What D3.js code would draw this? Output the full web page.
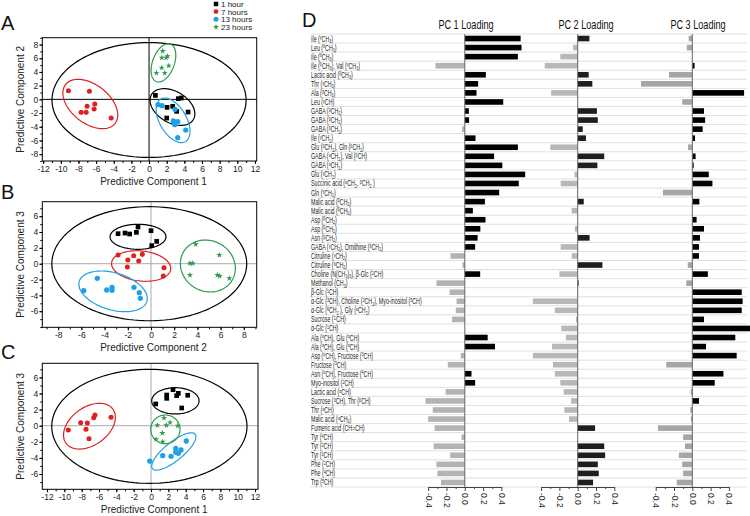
<!DOCTYPE html>
<html><head><meta charset="utf-8">
<script src="https://cdn.jsdelivr.net/npm/d3@7"></script>
<style>
html,body{margin:0;padding:0;background:#fff;}
svg{display:block;font-family:"Liberation Sans",Arial,sans-serif;}
</style></head>
<body><svg id="c" width="750" height="516"></svg>
<script>
// ---------------- DATA ----------------
const groups = ["1 hour", "7 hours", "13 hours", "23 hours"];
const groupColors = ["#000000", "#e02020", "#1ea0e6", "#2e9a4a"];

// Panel A: Predictive Component 1 (x) vs 2 (y)
const A_1h  = [[0.72,0.58],[3.32,0.1],[3.66,0.2],[2.04,-1.17],[2.68,-1.02],[3.13,-1.75],[4.42,-1.85],[2.0,-2.73]];
const A_7h  = [[-9.14,1.27],[-6.76,1.17],[-6.15,-0.68],[-7.02,-1.02],[-7.7,-1.9],[-7.13,-1.9],[-6.23,-1.41],[-4.3,-2.73]];
const A_13h = [[1.02,-0.78],[1.47,-0.92],[2.94,-1.46],[2.75,-3.16],[2.91,-3.7],[3.25,-3.26],[4.16,-4.48],[3.25,-5.6]];
const A_23h = [[1.55,7.05],[1.44,6.08],[1.93,6.08],[2.23,4.91],[0.83,3.85],[1.44,4.62],[1.78,3.85],[2.1,6.3]];
// ellipses: [cx, cy, half-width, half-height, y-offset of rightmost point]
const A_ell = [[2.65,-1.12,2.54,2.68,-1.0],[-6.66,-0.68,3.11,3.6,-1.6],[2.72,-3.06,1.92,3.25,-1.6],[1.63,5.33,1.4,2.8,1.1]];
const A_T2  = [0.0,-0.1,11.0,8.38,0];

// Panel B: Predictive Component 2 (x) vs 3 (y)
const B_1h  = [[-2.84,3.79],[-2.24,3.87],[-1.84,3.75],[-1.26,3.96],[-1.12,4.63],[0.0,4.17],[0.49,2.82],[0.06,2.28]];
const B_7h  = [[-2.84,1.1],[-2.0,0.47],[-2.04,-0.42],[-1.49,1.01],[-1.06,0.34],[-0.75,1.18],[1.12,-0.5],[1.06,-1.55]];
const B_13h = [[-5.8,-3.41],[-4.63,-1.84],[-3.82,-3.32],[-3.36,-2.98],[-3.36,-3.36],[-1.47,-2.98],[-1.01,-3.66],[-0.92,-4.37]];
const B_23h = [[3.85,2.45],[3.36,0.05],[3.59,0.05],[5.89,1.1],[3.36,-1.43],[5.72,-1.43],[5.92,-1.55],[6.75,-1.84]];
const B_ell = [[-1.12,3.4,2.41,1.58,0],[-0.85,-0.29,2.55,1.93,-0.3],[-3.27,-3.49,2.95,2.57,-0.9],[4.9,-0.29,2.37,3.28,-0.3]];
const B_T2  = [-0.15,0,8.4,7.2,0];

// Panel C: Predictive Component 1 (x) vs 3 (y)
const C_1h  = [[0.54,2.7],[1.81,3.81],[1.81,3.4],[2.54,4.47],[2.96,3.73],[3.15,4.02],[4.23,3.78],[3.54,2.2]];
const C_7h  = [[-9.54,-0.53],[-8.11,0.37],[-7.34,0.33],[-7.5,-0.45],[-6.61,0.99],[-6.46,1.33],[-4.61,1.04],[-7.15,-1.61]];
const C_13h = [[-0.15,-4.39],[1.35,-3.72],[2.31,-3.8],[2.85,-2.81],[2.85,-3.3],[3.15,-3.43],[3.46,-3.02],[4.07,-1.9]];
const C_23h = [[1.5,0.96],[0.73,0.05],[1.77,0.05],[3.08,0.0],[1.3,-0.91],[0.58,-1.69],[1.35,-1.99],[2.2,0.4]];
const C_ell = [[2.81,3.09,2.73,1.63,0],[-7.1,-0.06,2.99,2.84,1.1],[2.63,-3.2,2.55,2.32,1.83],[1.66,-0.45,1.69,1.78,0]];
const C_T2  = [-0.19,-0.08,11.26,7.08,0];

// Panel D: loadings
const metabolites = [
 "Ile (^γ^CH_3_)","Leu (^δ^CH_3_)","Ile (^δ^CH_3_)","Ile (^β^CH_3_), Val (^γ^CH_3_)","Lactic acid (^β^CH_3_)",
 "Thr (^γ^CH_3_)","Ala (^β^CH_3_)","Leu (^γ^CH)","GABA (^β^CH_2_)","GABA (^β^CH_2_)",
 "GABA (^β^CH_2_)","Ile (^γ^CH_2_)","Glu (^β^CH_2_), Gln (^β^CH_2_)","GABA (^α^CH_2_), Val (^β^CH)","GABA (^α^CH_2_)",
 "Glu (^γ^CH_2_)","Succinic acid (^α^CH_2_, ^β^CH_2_ )","Gln (^γ^CH_2_)","Malic acid (^β^CH_2_)","Malic acid (^β^CH_2_)",
 "Asp (^β^CH_2_)","Asp (^β^CH_2_)","Asn (^β^CH_2_)","GABA (^γ^CH_2_), Ornithine (^δ^CH_2_)","Citruline (^γ^CH_2_)",
 "Citruline (^δ^CH_2_)","Choline (N(CH_3_)_3_), β-Glc (^2^CH)","Methanol (CH_3_)","β-Glc (^1^CH)","α-Glc (^3^CH), Choline (^2^CH_2_), Myo-inositol (^5^CH)",
 "α-Glc (^6^CH_2_ ), Gly (^α^CH_2_)","Sucrose (^1'^CH)","α-Glc (^1^CH)","Ala (^α^CH), Glu (^α^CH)","Ala (^α^CH), Glu (^α^CH)",
 "Asp (^α^CH), Fructose (^3^CH)","Fructose (^3^CH)","Asn (^α^CH), Fructose (^4^CH)","Myo-inositol (^2^CH)","Lactic acid (^α^CH)",
 "Sucrose (^3^CH), Thr (^β^CH)","Thr (^α^CH)","Malic acid (^α^CH_2_)","Fumeric acid (CH=CH)","Tyr (^4^CH)",
 "Tyr (^2^CH)","Tyr (^3^CH)","Phe (^2^CH)","Phe (^4^CH)","Trp (^5^CH)"
];
const pc1 = [0.61,0.62,0.58,-0.32,0.23, 0.146,0.128,0.42,0.044,0.047, -0.03,0.117,0.58,0.32,0.41,
 0.66,0.59,0.376,0.22,0.088, 0.226,0.17,0.14,0.113,-0.157, -0.026,0.168,-0.31,-0.167,-0.09,
 -0.098,-0.139,0,0.25,0.33, -0.044,-0.186,0.073,0.113,-0.21, -0.43,-0.35,-0.40,-0.33,-0.036,
 -0.34,-0.16,-0.31,-0.30,-0.26];
const pc2 = [0.128,-0.05,-0.19,-0.36,0.12, 0.16,-0.29,0,0.21,0.22, 0.055,0.09,-0.30,0.29,0.215,
 -0.036,-0.186,0,0.066,-0.066, 0,-0.03,0.13,-0.186,-0.066, 0.27,-0.2,0.01,-0.005,-0.49,
 -0.25,-0.02,-0.18,-0.13,-0.28, -0.49,-0.27,-0.25,-0.19,-0.153, -0.073,-0.146,-0.095,0.19,0,
 0.29,0.30,0.22,0.23,0.168];
const pc3 = [-0.04,-0.06,0,0.025,-0.255, -0.56,0.566,-0.11,0.128,0.14, 0.113,0.03,-0.047,0.036,0.015,
 0.18,0.22,-0.32,0.077,0, 0.047,0.128,0.084,0.073,0.073, -0.05,0.17,-0.066,0.54,0.55,
 0.54,0.128,0.66,0.47,0.15, 0.485,-0.285,0.34,0.245,-0.018, 0.073,-0.022,-0.015,-0.376,-0.10,
 -0.08,-0.146,-0.11,-0.10,-0.17];
const pcTitles = ["PC 1 Loading","PC 2 Loading","PC 3 Loading"];
const loadingTicks = [-0.4,-0.2,0.0,0.2,0.4];

// ---------------- DRAW ----------------
const svg = d3.select("#c");

function scatterPanel(cfg) {
  const g = svg.append("g");
  const x = d3.scaleLinear().domain(cfg.xd).range([cfg.l, cfg.r]);
  const y = d3.scaleLinear().domain(cfg.yd).range([cfg.b, cfg.t]);
  g.append("line").attr("x1", x(0)).attr("x2", x(0)).attr("y1", cfg.t).attr("y2", cfg.b)
    .attr("stroke", cfg.crossColor).attr("stroke-width", 1);
  g.append("line").attr("y1", y(0)).attr("y2", y(0)).attr("x1", cfg.l).attr("x2", cfg.r)
    .attr("stroke", cfg.crossColor).attr("stroke-width", 1);
  const line = d3.line().x(d => x(d[0])).y(d => y(d[1])).curve(d3.curveLinearClosed);
  function ell(e) {
    const [cx, cy, W, H, k] = e;
    const v = Math.sqrt(Math.max(H * H - k * k, 0.0001));
    return d3.range(0, 2 * Math.PI, Math.PI / 60).map(t => [cx + W * Math.cos(t), cy + k * Math.cos(t) + v * Math.sin(t)]);
  }
  g.append("path").attr("d", line(ell(cfg.T2))).attr("fill", "none").attr("stroke", "#000").attr("stroke-width", 1.2);
  cfg.ell.forEach((e, i) => {
    g.append("path").attr("d", line(ell(e))).attr("fill", "none").attr("stroke", groupColors[i]).attr("stroke-width", 1.2);
  });
  const sym = [d3.symbolSquare, d3.symbolCircle, d3.symbolCircle, d3.symbolStar];
  const sizes = [22, 20, 22, 12];
  cfg.pts.forEach((pts, i) => {
    g.selectAll(null).data(pts).enter().append("path")
      .attr("d", d3.symbol().type(sym[i]).size(sizes[i]))
      .attr("transform", d => `translate(${x(d[0])},${y(d[1])})`)
      .attr("fill", groupColors[i]);
  });
  g.append("rect").attr("x", cfg.l).attr("y", cfg.t).attr("width", cfg.r - cfg.l).attr("height", cfg.b - cfg.t)
    .attr("fill", "none").attr("stroke", "#000").attr("stroke-width", 1);
  const xa = g.append("g").attr("transform", `translate(0,${cfg.b})`)
    .call(d3.axisBottom(x).tickValues(cfg.xt).tickSize(3).tickSizeOuter(0).tickFormat(d3.format("d")));
  const xm = g.append("g").attr("transform", `translate(0,${cfg.b})`)
    .call(d3.axisBottom(x).tickValues(d3.range(Math.ceil(cfg.xd[0]), Math.floor(cfg.xd[1]) + 1)).tickSize(2).tickSizeOuter(0).tickFormat(""));
  const ya = g.append("g").attr("transform", `translate(${cfg.l},0)`)
    .call(d3.axisLeft(y).tickValues(cfg.yt).tickSize(3).tickSizeOuter(0).tickFormat(d3.format("d")));
  const ym = g.append("g").attr("transform", `translate(${cfg.l},0)`)
    .call(d3.axisLeft(y).tickValues(d3.range(Math.ceil(cfg.yd[0]), Math.floor(cfg.yd[1]) + 1)).tickSize(2).tickSizeOuter(0).tickFormat(""));
  [xa, xm, ya, ym].forEach(a => { a.select(".domain").remove(); a.selectAll("line").attr("stroke", "#000"); });
  [xa, ya].forEach(a => a.selectAll("text").attr("font-size", 8.5).attr("fill", "#222")
    .attr("font-family", '"Liberation Sans",Arial,sans-serif').text(d => d < 0 ? "-" + Math.abs(d) : d));
  xa.selectAll("text").attr("dy", "0.9em").attr("y", 3);
  ya.selectAll("text").attr("x", -4);
  g.append("text").attr("x", (cfg.l + cfg.r) / 2 + 4).attr("y", cfg.b + 24).attr("text-anchor", "middle")
    .attr("font-size", 10).attr("fill", "#222").text(cfg.xlab);
  g.append("text").attr("transform", `translate(${cfg.l - 18},${(cfg.t + cfg.b) / 2}) rotate(-90)`)
    .attr("text-anchor", "middle").attr("font-size", 10).attr("fill", "#222").text(cfg.ylab);
  g.append("text").attr("x", 1).attr("y", cfg.letterY).attr("font-size", 20).attr("fill", "#111").text(cfg.letter);
}

scatterPanel({l: 42.3, r: 256.7, t: 37.7, b: 161, xd: [-12.1, 12.2], yd: [-9, 9],
  xt: d3.range(-12, 13, 2), yt: d3.range(-8, 9, 2), pts: [A_1h, A_7h, A_13h, A_23h], ell: A_ell, T2: A_T2,
  crossColor: "#000", xlab: "Predictive Component 1", ylab: "Predictive Component 2", letter: "A", letterY: 30});
scatterPanel({l: 42.3, r: 256.7, t: 201.7, b: 327.3, xd: [-9.37, 9.11], yd: [-8.03, 7.83],
  xt: d3.range(-8, 9, 2), yt: d3.range(-6, 7, 2), pts: [B_1h, B_7h, B_13h, B_23h], ell: B_ell, T2: B_T2,
  crossColor: "#aaa", xlab: "Predictive Component 2", ylab: "Predictive Component 3", letter: "B", letterY: 199});
scatterPanel({l: 42.3, r: 258, t: 363.3, b: 489.3, xd: [-12.54, 12.34], yd: [-7.9, 7.75],
  xt: d3.range(-12, 13, 2), yt: d3.range(-6, 7, 2), pts: [C_1h, C_7h, C_13h, C_23h], ell: C_ell, T2: C_T2,
  crossColor: "#aaa", xlab: "Predictive Component 1", ylab: "Predictive Component 3", letter: "C", letterY: 359});

// legend
const leg = svg.append("g");
const legSym = [d3.symbolSquare, d3.symbolCircle, d3.symbolCircle, d3.symbolStar];
const legY = [4, 11.6, 19.2, 27];
groups.forEach((gname, i) => {
  leg.append("path").attr("d", d3.symbol().type(legSym[i]).size([20, 18, 20, 12][i]))
    .attr("transform", `translate(${216},${legY[i]})`).attr("fill", groupColors[i]);
  leg.append("text").attr("x", 221).attr("y", legY[i] + 2.9).attr("font-size", 8)
    .attr("fill", "#222").text(gname);
});

// ---------------- Panel D ----------------
const D = svg.append("g").attr("font-family", '"Liberation Sans",Arial,sans-serif');
const top0 = 34, bot0 = 487;
const yb = d3.scaleBand().domain(metabolites.map((m, i) => i)).range([top0, bot0]).paddingInner(0.38).paddingOuter(0.19);
const step = yb.step();
D.selectAll(null).data(d3.range(metabolites.length + 1)).enter().append("line")
  .attr("x1", 310).attr("x2", 747).attr("y1", i => top0 + i * step).attr("y2", i => top0 + i * step)
  .attr("stroke", "#d8d8d8").attr("stroke-width", 0.8);

function rich(sel, s, fs) {
  const parts = s.split(/(\^[^\^]*\^|_[^_]*_)/).filter(p => p.length);
  let off = 0;
  parts.forEach(p => {
    let t = p, target = 0, small = false;
    if (p[0] === "^") { t = p.slice(1, -1); target = -2.3; small = true; }
    else if (p[0] === "_") { t = p.slice(1, -1); target = 1.4; small = true; }
    const ts = sel.append("tspan").text(t).attr("dy", target - off);
    if (small) ts.attr("font-size", fs * 0.68);
    off = target;
  });
}
const labelFs = 8.4;
metabolites.forEach((m, i) => {
  const t = D.append("text")
    .attr("transform", `translate(311,${yb(i) + yb.bandwidth() / 2 + 3}) scale(0.63,1)`)
    .attr("font-size", labelFs).attr("fill", "#222");
  rich(t, m, labelFs);
});

const zeros = [464.8, 577.7, 692.3];
const half = 36.6;
const pcs = [pc1, pc2, pc3];
const posCol = ["#000", "#1e1e1e", "#000"];
const negCol = ["#b3b3b3", "#b8b8b8", "#a6a6a6"];
pcs.forEach((vals, k) => {
  const x = d3.scaleLinear().domain([-0.4, 0.4]).range([zeros[k] - half, zeros[k] + half]);
  const g = D.append("g");
  g.selectAll(null).data(vals.map((v, i) => ({v, i})).filter(d => d.v !== 0)).enter().append("rect")
    .attr("x", d => Math.min(x(0), x(d.v))).attr("width", d => Math.abs(x(d.v) - x(0)))
    .attr("y", d => yb(d.i)).attr("height", yb.bandwidth())
    .attr("fill", d => d.v > 0 ? posCol[k] : negCol[k]);
  g.append("line").attr("x1", x(0)).attr("x2", x(0)).attr("y1", top0).attr("y2", bot0)
    .attr("stroke", "#666").attr("stroke-width", 1);
  const ax = g.append("g").attr("transform", `translate(0,${bot0})`)
    .call(d3.axisBottom(x).tickValues(loadingTicks).tickSize(4).tickSizeOuter(0).tickFormat(d3.format(".1f")));
  const axm = g.append("g").attr("transform", `translate(0,${bot0})`)
    .call(d3.axisBottom(x).tickValues([-0.3, -0.1, 0.1, 0.3]).tickSize(2).tickFormat(""));
  axm.select(".domain").remove();
  ax.select(".domain").attr("stroke", "#444");
  ax.selectAll("line").attr("stroke", "#444");
  axm.selectAll("line").attr("stroke", "#444");
  ax.selectAll("text").attr("transform", "rotate(90)").attr("x", 6).attr("y", 0).attr("dy", "0.35em")
    .attr("text-anchor", "start").attr("font-size", 8.5).attr("fill", "#222")
    .text(d => d < 0 ? "-" + d3.format(".1f")(-d) : d3.format(".1f")(d));
  g.append("text").attr("transform", `translate(${[466, 586, 698][k]},29) scale(0.76,1)`)
    .attr("text-anchor", "middle").attr("font-size", 12).attr("fill", "#111").text(pcTitles[k]);
});
D.append("text").attr("x", 302).attr("y", 27).attr("font-size", 20).attr("fill", "#111").text("D");
</script></body></html>
